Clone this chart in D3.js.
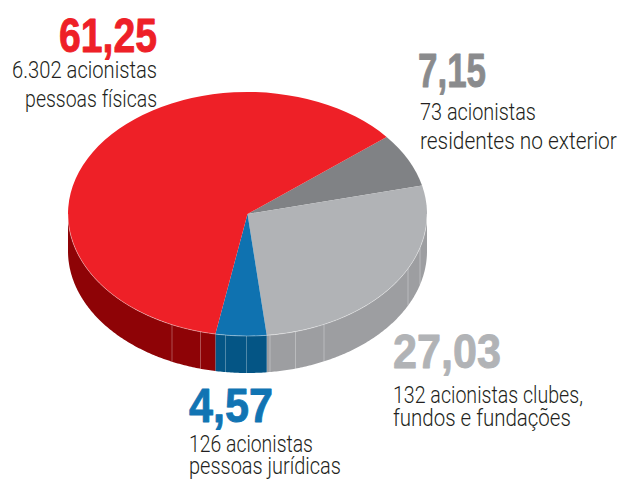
<!DOCTYPE html>
<html>
<head>
<meta charset="utf-8">
<style>
html, body { margin: 0; padding: 0; background: #fff; }
svg { display: block; }
.num { font-family: "Liberation Sans Narrow", "Liberation Sans", sans-serif; font-weight: 700; font-size: 49px; stroke-width: 0.9px; stroke-linejoin: round; }
.lbl { font-family: Roboto, sans-serif; font-weight: 300; font-size: 23px; fill: #231f20; }
</style>
</head>
<body>
<script src="https://d3js.org/d3.v7.min.js"></script>
<script>
const width = 620
const height = 479

// Slices in drawing order, clockwise from the red/grey edge
const shareLabels = ['7,15', '27,03', '4,57', '61,25']
const shares = [7.15, 27.03, 4.57, 61.25]
const topColors = ['#808285', '#b1b3b6', '#0f72b0', '#ee2027']
const sideColors = ['#808285', '#9d9ea1', '#045585', '#8e0306']
const labelColors = ['#8a8b8d', '#b1b3b6', '#1174b3', '#ee2027']
const lines = [
  ['73 acionistas', 'residentes no exterior'],
  ['132 acionistas clubes,', 'fundos e fundações'],
  ['126 acionistas', 'pessoas jurídicas'],
  ['6.302 acionistas', 'pessoas físicas']
]

// Pie shape
const cx = 247.5
const cy = 214
const rx = 179.5
const ry = 122
const depth = 37
const startAngle = 50.8 * Math.PI / 180

// Faint seams on the rim, x position in pixels
const seamX = [172, 200.5, 225.5, 246.5, 270, 295.5, 324, 408, 420]

// Text placement per slice: number x/baseline/width, then the two text lines
const labelPos = [
  { x: 418, y: 87, anchor: 'start', numW: 68, tx: 420, y1: 120, y2: 149, w: [116, 197] },
  { x: 393, y: 368, anchor: 'start', numW: 108, tx: 393, y1: 403, y2: 426, w: [190, 178] },
  { x: 189, y: 422, anchor: 'start', numW: 84, tx: 189, y1: 452, y2: 474, w: [124, 152] },
  { x: 157, y: 52, anchor: 'end', numW: 98, tx: 157, y1: 78, y2: 107, w: [145, 132] }
]

const svg = d3.select('body').append('svg')
  .attr('width', width)
  .attr('height', height)

const pie = d3.pie().sort(null).startAngle(startAngle).endAngle(startAngle + 2 * Math.PI)
const arcs = pie(shares)

const px = a => cx + rx * Math.sin(a)
const py = a => cy - ry * Math.cos(a)

// Rim: only the front half (angle between 90 and 270 deg) shows
const rim = d3.area()
  .x(px)
  .y0(py)
  .y1(a => py(a) + depth)

const rimLo = Math.PI / 2
const rimHi = 3 * Math.PI / 2

svg.append('g').selectAll('path')
  .data(arcs)
  .enter()
  .append('path')
  .attr('fill', (d, i) => sideColors[i])
  .attr('d', d => {
    const lo = Math.max(d.startAngle, rimLo)
    const hi = Math.min(d.endAngle, rimHi)
    if (hi <= lo) return null
    return rim(d3.range(lo, hi, 0.01).concat(hi))
  })

// seams
const rimTop = x => cy + ry * Math.sqrt(1 - ((x - cx) / rx) ** 2)

svg.append('g').selectAll('line')
  .data(seamX)
  .enter()
  .append('line')
  .attr('x1', d => d)
  .attr('x2', d => d)
  .attr('y1', rimTop)
  .attr('y2', d => rimTop(d) + depth)
  .attr('stroke', '#fff')
  .attr('stroke-opacity', 0.3)
  .attr('stroke-width', 1)

// Top face: a flat d3.arc pie squashed into an ellipse
const arc = d3.arc().innerRadius(0).outerRadius(rx)

svg.append('g')
  .attr('transform', `translate(${cx},${cy}) scale(1,${ry / rx})`)
  .selectAll('path')
  .data(arcs)
  .enter()
  .append('path')
  .attr('d', arc)
  .attr('fill', (d, i) => topColors[i])

// thin light edge between top face and rim
svg.append('path')
  .attr('d', d3.line().x(px).y(py)(d3.range(rimLo, rimHi, 0.01)))
  .attr('fill', 'none')
  .attr('stroke', '#fff')
  .attr('stroke-opacity', 0.45)
  .attr('stroke-width', 0.8)

// Squeeze a text sideways so it ends up as wide as in the picture
function fitWidth(sel, x, y, w) {
  const natural = sel.node().getComputedTextLength()
  sel.attr('transform', `translate(${x},${y}) scale(${w / natural},1)`)
}

// Labels
const labels = svg.append('g').selectAll('g')
  .data(shareLabels)
  .enter()
  .append('g')

labels.each(function (d, i) {
  const p = labelPos[i]
  const g = d3.select(this)
  const num = g.append('text')
    .attr('class', 'num')
    .attr('text-anchor', p.anchor)
    .attr('fill', labelColors[i])
    .attr('stroke', labelColors[i])
    .text(d)
  fitWidth(num, p.x, p.y, p.numW)
  lines[i].forEach((t, j) => {
    const line = g.append('text')
      .attr('class', 'lbl')
      .attr('text-anchor', p.anchor)
      .text(t)
    fitWidth(line, p.tx, j === 0 ? p.y1 : p.y2, p.w[j])
  })
})
</script>
</body>
</html>
